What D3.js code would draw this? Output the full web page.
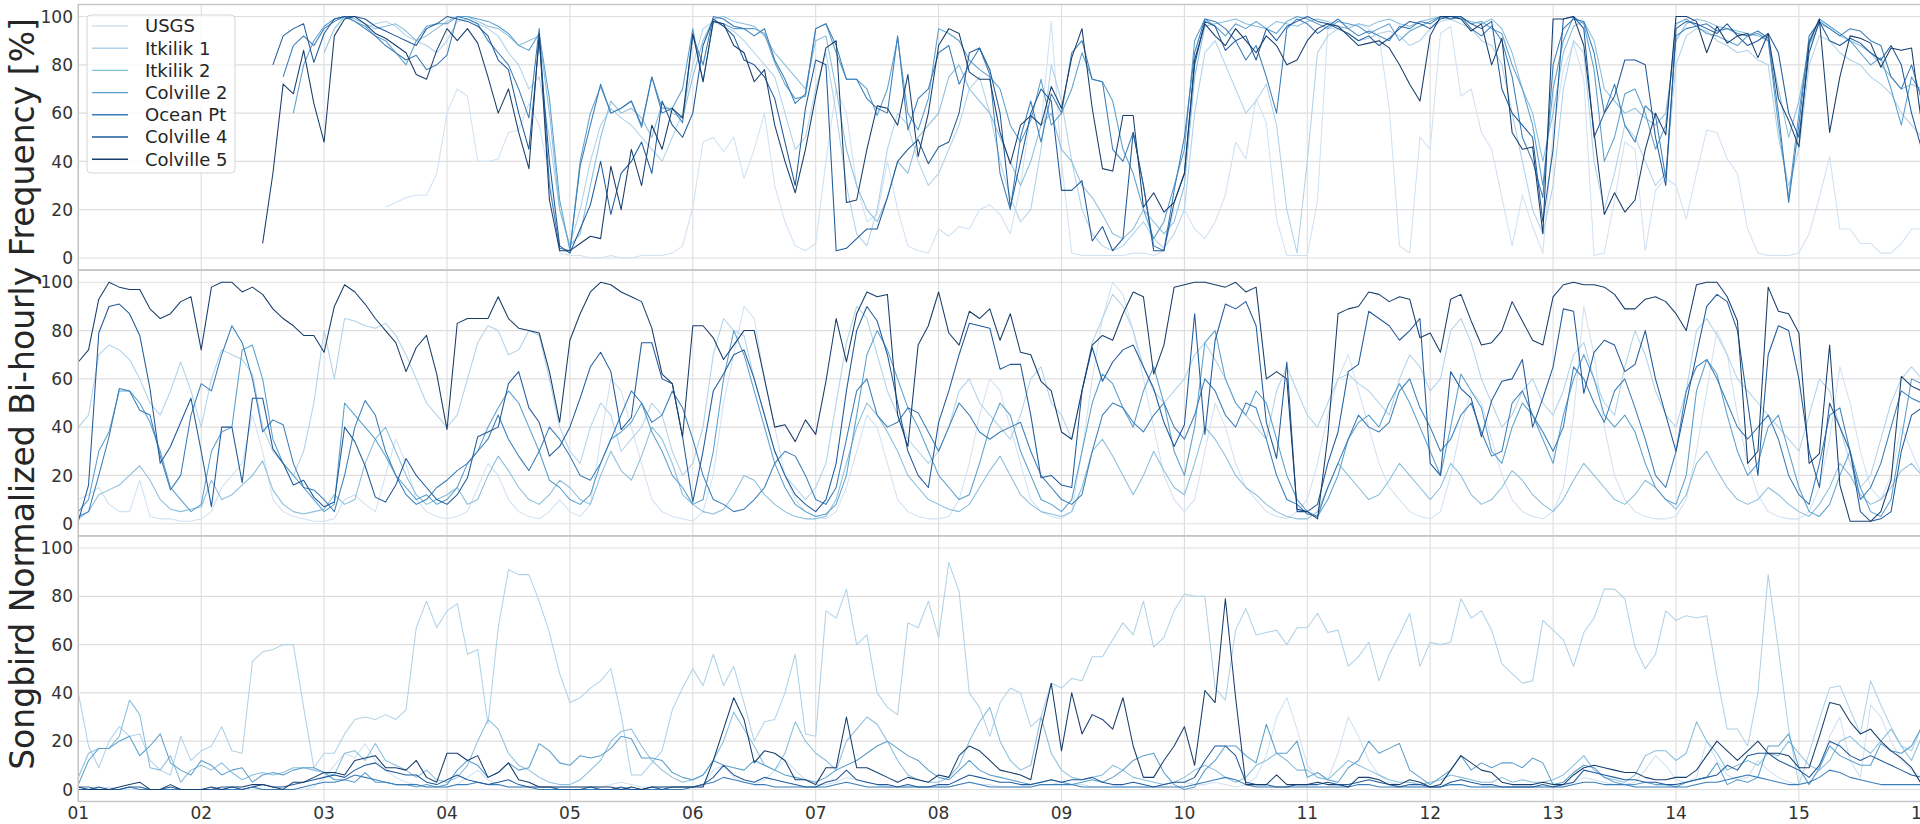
<!DOCTYPE html>
<html>
<head>
<meta charset="utf-8">
<script src="https://cdn.jsdelivr.net/npm/d3@7"></script>
<style>
  html, body { margin: 0; padding: 0; background: #fff; }
  svg { display: block; font-family: "DejaVu Sans", sans-serif; }
</style>
</head>
<body>
<svg id="chart" width="1920" height="824"></svg>
<script>
const N = null;

const sites = ["USGS", "Itkilik 1", "Itkilik 2", "Colville 2", "Ocean Pt", "Colville 4", "Colville 5"];
const siteColors = ["#d0e1f2", "#b0d2e8", "#89bedc", "#5a9fcc", "#3a7db8", "#1f5a9a", "#173d6b"];
const dayTicks = [1, 2, 3, 4, 5, 6, 7, 8, 9, 10, 11, 12, 13, 14, 15, 16];
const dayLabels = ["01", "02", "03", "04", "05", "06", "07", "08", "09", "10", "11", "12", "13", "14", "15", "16"];
const yTicks = [0, 20, 40, 60, 80, 100];
const yTitle = "Songbird Normalized Bi-hourly Frequency [%]";

// bi-hourly values, 12 per day, day 01 00:00 .. day 16 00:00

// ---- top panel
const p1_usgs = [
  N,N,N,N,N,N,N,N,N,N,N,N,
  N,N,N,N,N,N,N,N,N,N,N,N,
  N,N,N,N,N,N,21,23,25,26,26,35,
  60,70,67,40,40,41,52,53,64,55,34,2,
  1,1,0,0,1,0,0,1,1,1,2,5,
  21,48,50,44,50,33,45,60,30,15,5,3,
  6,40,70,60,30,15,18,40,20,5,3,2,
  12,9,13,12,20,22,18,10,30,60,55,98,
  40,2,1,1,1,1,1,2,2,1,3,20,
  20,12,8,15,26,48,41,66,56,16,1,1,
  1,24,95,95,96,97,95,92,62,5,2,50,
  45,93,96,67,70,52,45,25,5,26,13,2,
  52,78,89,74,1,2,24,48,45,3,28,33,
  30,16,35,53,52,41,35,12,2,1,1,1,
  2,10,25,42,12,12,6,6,2,2,6,12,
  12];
const p1_itk1 = [
  N,N,N,N,N,N,N,N,N,N,N,N,
  N,N,N,N,N,N,N,N,N,N,N,N,
  N,N,N,N,95,97,98,96,92,90,88,85,
  90,98,99,97,95,92,85,80,70,75,50,20,
  5,20,40,55,62,58,55,50,45,40,50,60,
  80,95,98,96,94,90,85,80,75,60,45,50,
  70,85,60,30,10,5,20,45,60,55,40,30,
  35,45,55,70,75,60,40,25,15,20,45,80,
  65,40,20,10,5,3,5,10,15,8,4,10,
  20,60,85,90,80,70,60,65,72,55,20,2,
  40,85,92,95,93,90,91,93,94,92,88,90,
  95,98,99,97,95,90,88,80,60,40,20,10,
  30,70,90,85,40,20,35,55,50,40,30,35,
  80,92,95,94,90,88,85,86,82,80,50,30,
  45,80,92,90,85,82,80,75,72,68,60,55,
  50];
const p1_itk2 = [
  N,N,N,N,N,N,N,N,N,N,N,N,
  N,N,N,N,N,N,N,N,N,N,N,N,
  85,95,100,99,97,95,96,97,94,90,92,95,
  98,100,100,98,96,95,92,88,90,92,60,20,
  5,10,30,50,65,60,62,58,50,64,60,58,
  75,90,99,100,98,97,96,92,85,80,75,70,
  90,92,70,45,30,20,15,25,40,35,50,55,
  60,75,80,70,65,60,50,40,30,40,55,60,
  45,40,30,25,18,10,8,12,20,15,10,15,
  30,75,96,97,98,99,97,96,95,98,97,96,
  98,99,98,96,95,97,96,98,99,97,96,98,
  99,100,100,99,98,97,99,95,85,70,60,40,
  60,85,96,98,90,70,65,60,62,58,55,60,
  90,97,99,98,96,95,94,93,92,90,70,50,
  65,88,97,95,92,90,88,85,80,75,70,72,
  70];
const p1_col2 = [
  N,N,N,N,N,N,N,N,N,N,N,N,
  N,N,N,N,N,N,N,N,N,60,80,90,
  96,99,100,98,96,92,90,85,80,90,96,97,
  97,100,100,99,98,96,93,88,86,93,66,24,
  3,40,60,71,60,62,65,54,75,62,62,70,
  95,73,98,97,95,95,95,93,81,72,66,67,
  95,97,85,74,74,70,59,70,91,60,53,66,
  95,93,90,82,78,75,70,55,48,57,74,55,
  60,70,85,74,73,65,45,35,20,8,15,30,
  45,90,99,96,92,97,95,98,95,93,98,100,
  99,97,95,98,97,96,93,95,97,90,94,96,
  98,100,99,100,97,98,95,93,80,70,55,30,
  70,90,100,97,78,40,50,68,70,60,45,55,
  97,99,96,93,92,90,88,92,93,90,55,25,
  60,90,99,96,93,90,85,80,83,70,55,75,
  68];
const p1_ocean = [
  N,N,N,N,N,N,N,N,N,N,N,N,
  N,N,N,N,N,N,N,N,75,88,92,88,
  95,98,100,98,95,92,88,85,82,84,78,80,
  84,100,99,97,90,85,80,70,58,95,30,4,
  3,38,55,72,60,62,65,55,75,60,62,56,
  92,80,100,99,96,95,92,95,82,74,64,68,
  95,97,88,74,74,66,62,60,92,53,66,70,
  85,88,72,80,87,76,35,20,50,65,48,68,
  60,85,90,74,73,45,40,52,30,5,3,28,
  50,85,99,98,95,90,82,88,75,60,95,99,
  97,93,96,99,95,92,94,92,90,96,95,98,
  97,100,99,100,95,92,96,90,75,50,40,25,
  80,95,99,98,85,60,72,55,48,63,59,33,
  92,95,96,97,94,95,93,92,94,91,60,23,
  55,92,98,95,92,95,94,90,88,75,70,80,
  65];
const p1_col4 = [
  N,N,N,N,N,N,N,N,N,N,N,N,
  N,N,N,N,N,N,N,80,92,95,97,81,
  93,99,100,100,99,96,94,92,90,88,95,97,
  100,99,98,96,92,82,78,60,45,90,40,5,
  2,12,22,40,18,35,40,48,35,65,55,50,
  60,88,99,96,92,82,80,75,66,48,30,62,
  82,80,3,4,8,12,12,25,40,45,49,39,
  46,48,60,85,87,78,60,21,40,60,70,65,
  28,28,32,7,13,3,8,52,30,3,3,23,
  35,80,98,96,86,90,92,82,95,90,96,98,
  100,98,97,95,93,90,92,88,91,95,98,97,
  95,99,100,100,97,95,98,70,60,55,50,15,
  45,99,100,95,50,60,67,82,82,80,50,30,
  95,98,97,95,93,97,92,88,90,93,85,60,
  50,85,98,90,88,91,89,85,82,88,80,60,
  45];
const p1_col5 = [
  N,N,N,N,N,N,N,N,N,N,N,N,
  N,N,N,N,N,N,6,35,72,68,86,64,
  48,92,99,100,97,93,91,88,85,76,74,86,
  95,90,95,89,75,60,70,52,37,93,24,3,
  3,6,9,8,38,20,45,30,55,45,62,58,
  93,73,98,97,88,85,73,78,55,40,27,45,
  67,87,90,23,24,45,63,62,55,76,42,60,
  88,95,93,77,74,74,52,39,55,59,55,71,
  62,83,95,62,37,36,59,59,21,27,19,23,
  35,82,97,92,88,95,90,85,92,88,80,82,
  90,95,97,96,92,88,89,90,87,80,72,65,
  92,100,100,99,94,97,80,91,52,45,46,10,
  99,99,100,88,52,18,27,19,24,45,60,51,
  100,100,98,85,96,89,92,93,83,93,66,57,
  46,89,99,52,75,92,91,89,79,87,86,87,
  55];

// ---- middle panel
const p2_usgs = [
  10,12,15,8,5,5,18,3,2,2,1,1,
  2,5,15,20,25,45,30,10,5,3,2,1,
  1,2,10,12,8,5,20,35,25,10,5,3,
  2,3,5,15,25,20,10,5,3,2,5,10,
  5,3,8,35,60,55,40,25,10,5,3,2,
  1,5,20,50,70,90,85,60,40,20,10,5,
  3,2,5,15,30,45,40,25,10,5,3,2,
  2,3,10,25,45,60,55,40,25,10,5,3,
  2,5,30,60,85,100,95,80,60,40,20,10,
  5,10,30,50,40,25,15,10,5,3,2,5,
  10,25,45,60,70,55,40,25,15,10,5,3,
  2,5,20,40,55,50,35,20,10,5,3,2,
  5,15,45,90,70,40,20,10,5,3,2,2,
  3,10,30,55,80,70,45,25,12,5,3,2,
  2,5,15,35,65,50,30,15,10,20,40,30,
  20];
const p2_itk1 = [
  40,45,70,74,72,68,60,50,45,55,67,55,
  40,60,72,70,68,62,40,30,25,20,30,50,
  80,60,85,84,82,81,83,78,70,60,50,45,
  40,45,60,75,82,80,70,72,80,78,60,40,
  30,25,40,50,45,30,35,40,50,45,30,20,
  25,40,70,85,80,78,60,45,30,20,15,10,
  15,25,50,75,90,85,70,55,45,35,30,25,
  30,40,55,60,50,45,40,35,45,60,65,50,
  45,35,55,75,85,95,90,80,65,55,50,55,
  60,70,75,68,60,50,45,40,35,55,65,55,
  45,40,50,60,62,58,55,50,45,60,70,65,
  55,60,80,85,75,60,50,40,45,55,60,50,
  45,55,70,75,60,50,45,65,80,70,55,45,
  40,55,80,85,78,70,60,55,50,45,40,35,
  30,45,60,55,40,25,15,20,35,50,60,65,
  60];
const p2_itk2 = [
  2,5,12,14,16,20,24,18,10,6,5,6,
  7,18,10,12,16,20,26,14,8,5,4,5,
  6,12,8,10,25,35,40,30,20,12,8,10,
  12,15,8,10,20,28,22,15,10,8,12,18,
  15,10,8,20,30,22,18,28,40,35,25,12,
  8,5,4,6,12,20,18,12,8,5,3,2,
  2,3,10,25,40,50,45,38,30,20,15,10,
  8,6,5,8,15,22,28,20,12,8,5,4,
  3,5,15,30,35,28,20,12,20,30,22,15,
  12,25,40,35,28,20,15,12,8,5,3,2,
  2,5,15,25,20,15,10,12,18,25,20,15,
  10,15,25,20,12,8,10,15,22,18,12,8,
  5,10,18,25,20,15,10,8,12,18,15,10,
  6,12,25,30,22,15,10,8,10,15,12,8,
  5,3,8,15,25,20,12,8,10,15,22,25,
  20];
const p2_col2 = [
  5,10,30,38,55,55,50,42,30,15,10,5,
  8,30,38,40,72,74,60,35,25,20,15,10,
  5,8,50,45,40,35,28,20,15,10,12,8,
  10,15,25,30,40,48,55,50,40,30,18,15,
  10,8,12,25,35,38,42,50,38,30,20,15,
  8,10,30,60,80,70,55,40,25,15,8,5,
  3,4,8,20,45,70,80,72,60,48,40,30,
  20,15,10,12,25,40,50,45,30,20,10,8,
  5,10,30,50,62,58,48,40,55,65,50,30,
  20,40,75,80,60,50,45,55,50,35,20,10,
  5,3,10,20,35,42,45,40,50,58,50,40,
  30,20,40,62,55,48,30,25,40,50,45,35,
  25,45,60,70,60,45,40,45,38,25,15,10,
  8,20,55,68,62,45,30,20,25,40,45,30,
  15,5,3,8,20,30,15,5,3,10,35,60,
  58];
const p2_ocean = [
  3,5,20,36,56,55,47,45,28,14,20,45,
  58,55,70,82,75,60,38,43,41,25,15,14,
  10,5,20,40,51,45,30,20,12,8,10,15,
  18,22,25,30,35,45,35,28,22,30,40,35,
  28,20,18,25,35,45,55,50,42,45,55,48,
  35,20,10,8,5,6,10,15,25,30,28,20,
  10,8,15,35,55,60,45,40,42,48,46,38,
  30,40,50,45,38,35,38,40,42,30,20,15,
  10,8,12,30,45,50,48,42,38,45,50,40,
  35,45,60,55,45,40,50,48,35,20,10,8,
  4,3,15,25,35,45,40,38,42,55,60,48,
  40,30,35,45,50,38,28,30,50,55,45,38,
  30,40,65,60,50,42,55,60,48,35,20,15,
  30,55,65,68,60,50,40,35,40,45,35,20,
  12,8,25,45,48,30,10,15,25,40,55,52,
  50];
const p2_col4 = [
  1,16,79,90,91,87,78,56,25,32,42,52,
  30,7,40,40,17,52,52,31,25,16,18,11,
  7,9,40,34,24,11,9,16,27,20,15,10,
  8,12,19,36,38,40,58,63,48,42,28,32,
  40,52,65,71,63,39,44,75,75,60,58,36,
  9,30,55,62,70,72,60,45,30,20,12,8,
  5,10,25,55,80,90,84,70,50,30,20,15,
  42,55,70,83,82,81,64,66,66,45,19,20,
  16,15,55,73,59,67,72,74,65,56,42,32,
  41,87,37,76,91,89,92,82,42,27,67,5,
  5,8,25,38,63,66,88,85,82,76,80,85,
  25,20,63,56,52,36,51,59,60,68,40,52,
  65,89,88,54,71,76,74,63,66,80,60,45,
  30,50,70,90,95,92,80,50,20,70,82,80,
  60,30,15,50,40,30,5,1,2,5,30,45,
  48];
const p2_col5 = [
  67,72,93,100,98,97,97,89,85,87,92,94,
  72,98,100,100,96,98,95,89,85,82,78,78,
  71,90,99,96,91,85,80,75,63,73,78,62,
  39,83,85,85,85,94,85,81,80,79,63,42,
  76,87,96,100,99,96,94,92,81,62,58,36,
  82,82,77,68,74,80,80,60,40,41,34,43,
  37,59,85,67,87,96,94,95,45,32,74,82,
  96,79,74,88,85,89,76,87,71,70,59,55,
  38,35,55,74,78,76,87,96,94,62,74,98,
  99,100,100,99,98,100,96,98,60,63,60,6,
  5,2,36,87,89,90,96,95,92,94,93,77,
  79,71,93,95,84,74,75,80,92,84,76,74,
  94,99,100,99,99,98,95,89,89,93,94,92,
  87,80,99,100,100,94,84,25,30,98,88,87,
  79,25,29,74,16,1,1,1,5,18,61,57,
  55];

// ---- bottom panel
const p3_usgs = [
  0,0,0,1,0,0,0,0,0,0,0,0,
  0,0,0,0,0,0,0,0,0,0,0,1,
  5,10,15,13,19,12,8,5,3,2,1,1,
  1,2,5,8,4,2,1,1,1,1,1,1,
  1,1,1,1,2,3,2,1,1,1,1,1,
  1,2,8,10,5,3,2,4,8,12,8,4,
  2,2,3,5,4,3,2,1,1,1,1,1,
  1,1,2,3,2,2,1,1,1,1,2,2,
  3,2,2,1,1,1,1,1,1,1,2,3,
  3,2,2,3,2,1,2,5,14,30,38,25,
  10,5,4,15,30,22,12,6,3,2,1,1,
  1,1,2,2,1,1,1,1,1,1,1,1,
  1,1,3,5,4,3,2,2,3,8,14,10,
  4,3,5,20,12,6,4,5,12,8,5,3,
  2,3,8,22,30,12,5,35,30,20,12,8,
  5];
const p3_itk1 = [
  40,18,9,20,26,22,23,12,8,6,22,12,
  16,18,26,16,15,53,57,58,60,60,34,9,
  15,15,23,29,30,29,31,29,33,67,78,67,
  74,77,56,58,27,67,91,89,89,78,65,48,
  36,38,42,45,50,31,6,6,11,16,33,42,
  50,43,56,43,51,36,20,28,29,40,56,23,
  22,74,71,83,60,64,40,34,31,69,67,78,
  63,94,82,40,34,22,36,42,40,26,30,44,
  42,46,45,55,55,62,69,64,78,59,63,74,
  81,80,80,42,37,66,75,64,65,66,60,67,
  67,73,65,66,51,55,61,45,56,64,73,51,
  61,60,61,79,71,74,66,52,48,44,45,70,
  66,62,51,65,71,83,83,79,59,50,56,74,
  70,72,71,72,47,25,25,18,40,89,58,25,
  2,15,29,42,43,33,23,45,35,26,18,16,
  26];
const p3_itk2 = [
  5,15,17,17,22,37,31,9,8,14,3,8,
  10,8,11,7,4,6,7,6,7,9,9,8,
  7,6,15,16,12,19,12,10,8,5,8,4,
  3,5,10,20,29,25,15,10,8,5,3,2,
  2,4,8,12,20,24,25,18,12,8,5,3,
  4,6,12,20,32,25,18,10,8,15,28,20,
  15,12,8,20,25,30,27,20,12,6,4,3,
  3,5,10,20,28,34,20,12,8,10,30,15,
  8,5,4,5,6,10,8,5,4,3,2,3,
  5,8,10,8,5,3,5,10,12,15,12,8,
  8,5,4,8,12,10,8,6,4,3,3,2,
  3,4,6,5,4,3,3,5,3,4,3,3,
  4,6,10,14,8,5,4,3,6,14,16,16,
  12,15,28,20,15,8,10,12,10,15,14,20,
  15,10,8,12,20,22,18,15,20,25,18,12,
  22];
const p3_col2 = [
  2,12,17,17,20,22,14,18,23,11,8,6,
  12,10,6,8,9,3,6,7,6,8,9,9,
  7,4,4,3,7,3,3,2,2,1,2,1,
  2,8,12,10,5,7,11,8,9,19,16,11,
  10,14,13,14,17,22,21,13,13,12,7,5,
  4,6,12,10,9,8,12,10,8,6,5,4,
  3,5,8,10,12,15,18,20,17,14,12,8,
  5,4,8,12,8,6,5,4,3,2,3,4,
  3,2,3,4,3,5,8,12,14,15,7,2,
  0,1,8,12,18,18,14,11,27,15,15,20,
  5,7,4,3,9,12,20,15,17,19,8,5,
  2,5,8,14,8,11,9,11,11,9,13,11,
  2,3,7,10,9,5,3,2,2,3,2,2,
  1,3,4,5,11,2,4,3,5,18,18,23,
  9,2,9,18,14,12,10,10,19,16,15,18,
  26];
const p3_ocean = [
  1,1,0,0,0,1,0,0,0,0,0,0,
  0,0,0,0,0,1,0,0,0,0,1,2,
  3,3,4,6,5,4,3,2,2,2,1,1,
  1,2,2,3,2,2,1,1,1,0,0,0,
  0,0,0,0,0,0,0,0,0,0,0,0,
  1,2,3,5,4,3,2,2,1,1,1,1,
  1,1,2,3,2,1,1,1,1,1,1,1,
  1,1,2,3,2,1,1,1,1,1,2,2,
  2,2,1,1,1,1,1,1,1,1,1,1,
  1,2,3,4,5,4,2,1,1,1,1,1,
  1,1,1,1,1,2,2,1,1,1,1,1,
  1,1,2,2,1,1,1,1,1,1,1,1,
  1,1,2,3,3,2,2,2,1,1,1,1,
  1,1,2,3,3,4,5,6,5,4,3,2,
  2,3,5,8,7,5,4,3,2,2,2,2,
  2];
const p3_col4 = [
  0,0,1,0,0,1,1,0,0,1,0,0,
  0,0,1,1,0,1,2,1,1,2,3,4,
  5,6,5,8,10,11,8,7,6,6,3,2,
  4,6,4,3,2,3,4,2,1,1,1,0,
  0,0,1,0,0,1,0,0,1,0,1,1,
  1,2,5,10,6,4,3,5,4,3,2,1,
  1,3,4,8,4,3,2,2,1,2,1,1,
  2,2,4,6,5,4,3,3,2,2,3,4,
  3,4,4,5,3,2,2,3,2,1,2,3,
  3,5,12,18,18,14,3,2,2,1,1,2,
  2,2,3,2,2,3,4,3,2,1,2,2,
  1,1,3,4,3,2,2,1,1,1,1,2,
  1,2,3,8,7,6,5,4,4,3,3,2,
  2,3,4,5,6,10,8,14,15,15,12,10,
  8,5,10,20,18,14,12,14,12,10,8,6,
  5];
const p3_col5 = [
  1,0,0,0,1,2,3,0,0,2,0,0,
  0,1,0,1,1,2,2,1,0,3,3,5,
  7,7,6,12,13,14,9,9,8,12,5,3,
  15,15,12,14,5,7,11,4,3,1,1,1,
  1,1,1,1,1,0,1,0,1,1,1,1,
  1,1,12,25,38,29,11,16,15,12,4,4,
  2,9,9,30,9,9,7,5,3,5,4,3,
  6,5,14,18,16,12,8,7,6,4,25,44,
  16,40,23,31,29,25,38,18,5,5,12,18,
  26,10,41,36,79,38,2,2,2,6,2,2,
  2,3,2,2,1,5,5,4,2,2,4,3,
  1,2,8,14,11,8,7,3,2,2,2,3,
  2,2,6,9,10,9,8,7,7,5,4,4,
  5,5,8,14,20,16,12,16,20,15,15,14,
  9,9,22,36,35,28,23,25,20,16,13,9,
  2];

const panels = [
  [p1_usgs, p1_itk1, p1_itk2, p1_col2, p1_ocean, p1_col4, p1_col5],
  [p2_usgs, p2_itk1, p2_itk2, p2_col2, p2_ocean, p2_col4, p2_col5],
  [p3_usgs, p3_itk1, p3_itk2, p3_col2, p3_ocean, p3_col4, p3_col5]
];

var width = 1920, height = 824;
var plotLeft = 78.3;
var panelTop = [4.5, 270.25, 536];
var panelH = 265.5;

var svg = d3.select("#chart");

var x = d3.scaleLinear()
  .domain([1, 16])
  .range([plotLeft, plotLeft + 15 * 122.9]);

panels.forEach(function(series, p) {
  var y = d3.scaleLinear()
    .domain([-5, 105])
    .range([panelTop[p] + panelH, panelTop[p]]);

  var g = svg.append("g");

  g.selectAll(".hgrid")
    .data(yTicks)
    .enter().append("line")
    .attr("x1", plotLeft).attr("x2", width)
    .attr("y1", d => y(d)).attr("y2", d => y(d))
    .attr("stroke", "#dedede")
    .attr("stroke-width", 1.1);

  g.selectAll(".vgrid")
    .data(dayTicks)
    .enter().append("line")
    .attr("x1", d => x(d)).attr("x2", d => x(d))
    .attr("y1", panelTop[p]).attr("y2", panelTop[p] + panelH)
    .attr("stroke", "#dedede")
    .attr("stroke-width", 1.1);

  g.selectAll(".ylab")
    .data(yTicks)
    .enter().append("text")
    .attr("x", 73)
    .attr("y", d => y(d))
    .attr("dy", "0.36em")
    .attr("text-anchor", "end")
    .attr("font-size", 17)
    .attr("fill", "#333")
    .text(d => d);

  var line = d3.line()
    .defined(d => d != null)
    .x((d, i) => x(1 + i / 12))
    .y(d => y(d));

  series.forEach(function(vals, s) {
    g.append("path")
      .datum(vals)
      .attr("fill", "none")
      .attr("stroke", siteColors[s])
      .attr("stroke-width", 1.05)
      .attr("stroke-linejoin", "round")
      .attr("d", line);
  });

  g.append("rect")
    .attr("x", plotLeft)
    .attr("y", panelTop[p])
    .attr("width", width)
    .attr("height", panelH)
    .attr("fill", "none")
    .attr("stroke", "#c4c4c4")
    .attr("stroke-width", 1.4);
});

// day labels under the bottom panel
svg.selectAll(".xlab")
  .data(dayTicks)
  .enter().append("text")
  .attr("x", d => x(d))
  .attr("y", 813)
  .attr("dy", "0.36em")
  .attr("text-anchor", "middle")
  .attr("font-size", 17)
  .attr("fill", "#333")
  .text((d, i) => dayLabels[i]);

svg.append("text")
  .attr("transform", "translate(22, 394) rotate(-90)")
  .attr("text-anchor", "middle")
  .attr("dy", "0.36em")
  .attr("font-size", 33)
  .attr("fill", "#262626")
  .text(yTitle);

// legend in the top panel
var legend = svg.append("g");
legend.append("rect")
  .attr("x", 87).attr("y", 15)
  .attr("width", 148).attr("height", 158)
  .attr("rx", 4)
  .attr("fill", "#fff").attr("fill-opacity", 0.8)
  .attr("stroke", "#d6d6d6");

sites.forEach(function(name, k) {
  var ly = 26 + k * 22.2;
  legend.append("line")
    .attr("x1", 92).attr("x2", 128)
    .attr("y1", ly).attr("y2", ly)
    .attr("stroke", siteColors[k])
    .attr("stroke-width", 1.4);
  legend.append("text")
    .attr("x", 145).attr("y", ly)
    .attr("dy", "0.36em")
    .attr("font-size", 18)
    .attr("fill", "#262626")
    .text(name);
});
</script>
</body>
</html>
